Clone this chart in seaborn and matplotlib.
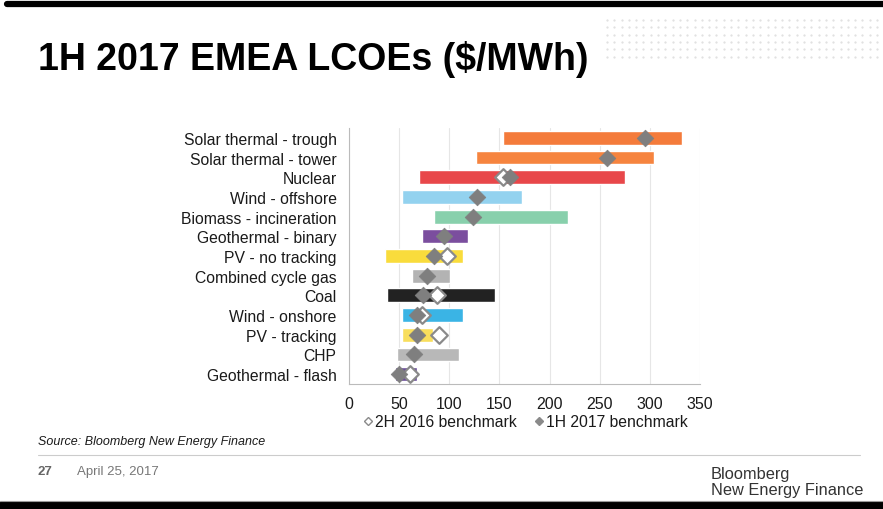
import numpy as np
import matplotlib.pyplot as plt
import seaborn as sns
from matplotlib.lines import Line2D

techs = ['Solar thermal - trough', 'Solar thermal - tower', 'Nuclear', 'Wind - offshore',
         'Biomass - incineration', 'Geothermal - binary', 'PV - no tracking',
         'Combined cycle gas', 'Coal', 'Wind - onshore', 'PV - tracking', 'CHP',
         'Geothermal - flash']
low = [154, 127, 70, 53, 85, 73, 36, 63, 38, 53, 53, 48, 46]
high = [332, 304, 275, 173, 218, 119, 114, 101, 146, 114, 84, 110, 68]
bench_2h2016 = [np.nan, np.nan, 154, np.nan, np.nan, np.nan, 98, np.nan, 88, 73, 90, np.nan, 61]
bench_1h2017 = [295, 257, 161, 128, 124, 95, 85, 78, 74, 68, 68, 65, 50]
colors = ['#F47B3B', '#F6843F', '#E8474A', '#93D2EF', '#88D0AC', '#7B4E9E', '#F9DC3C',
          '#B3B3B3', '#222222', '#3AB4E5', '#F8DE5C', '#B8B8B8', '#6B4C9A']

sns.set_style('white')
plt.rcParams['font.family'] = ['Liberation Sans', 'DejaVu Sans']
plt.rcParams['text.color'] = '#1a1a1a'

fig = plt.figure(figsize=(8.83, 5.10), dpi=100)
ax = fig.add_axes([349 / 883, 1 - 385 / 510, 351 / 883, 256 / 510])

pos = np.arange(len(techs))
ax.barh(pos, np.array(high) - np.array(low), left=low, height=0.7, color=colors, zorder=2)
sns.scatterplot(x=bench_2h2016, y=pos, marker='D', s=72, color='white', edgecolor='#8a8a8a',
                linewidth=1.6, ax=ax, zorder=3, legend=False)
sns.scatterplot(x=bench_1h2017, y=pos, marker='D', s=72, color='#7f7f7f', edgecolor='#7f7f7f',
                linewidth=0.5, ax=ax, zorder=4, legend=False)

ax.set_xlim(0, 350)
ax.set_ylim(len(techs) - 0.5, -0.5)
ax.set_xticks(range(0, 351, 50))
ax.set_yticks(pos)
ax.set_yticklabels(techs, fontsize=11.3)
ax.set_yticks(np.arange(-0.5, len(techs), 1), minor=True)
ax.tick_params(axis='y', which='major', length=0, pad=9, labelcolor='#1a1a1a')
ax.tick_params(axis='y', which='minor', length=4, color='#bbbbbb', direction='out')
ax.tick_params(axis='x', length=4, color='#bbbbbb', labelsize=11.5, pad=5, labelcolor='#1a1a1a')
ax.grid(axis='x', color='#e6e6e6', linewidth=0.8, zorder=0)
for side in ['top', 'right']:
    ax.spines[side].set_visible(False)
for side in ['left', 'bottom']:
    ax.spines[side].set_color('#bbbbbb')

handles = [Line2D([], [], marker='D', ls='', markersize=4.5, markerfacecolor='white',
                  markeredgecolor='#8a8a8a', markeredgewidth=1),
           Line2D([], [], marker='D', ls='', markersize=4.5, markerfacecolor='#8a8a8a',
                  markeredgecolor='#8a8a8a')]
ax.legend(handles, ['2H 2016 benchmark', '1H 2017 benchmark'], ncol=2, frameon=False,
          loc='upper center', bbox_to_anchor=(0.5, -0.075), fontsize=11.3,
          handletextpad=0.05, columnspacing=1.0, handlelength=0.8, borderpad=0.2)

# slide decoration
fig.add_artist(plt.Line2D([0.008, 1], [1 - 5 / 510, 1 - 5 / 510], color='black', lw=4.5))
fig.add_artist(plt.Rectangle((0, 0), 1, 7 / 510, color='black', transform=fig.transFigure))
fig.add_artist(plt.Line2D([0, 1], [8.5 / 510, 8.5 / 510], color='#999999', lw=0.8))
fig.add_artist(plt.Line2D([38 / 883, 860 / 883], [1 - 456 / 510, 1 - 456 / 510],
                          color='#cccccc', lw=0.8))
dx, dy = np.meshgrid(np.arange(607, 883, 7.3), np.arange(21, 60, 7.3))
fig.add_artist(plt.Line2D((dx / 883).ravel(), (1 - dy / 510).ravel(), ls='',
                          marker='.', markersize=1.1, color='#dddddd'))

fig.text(38 / 883, 1 - 59 / 510, '1H 2017 EMEA LCOEs ($/MWh)', fontsize=27,
         fontweight='bold', color='black', va='center', ha='left')
fig.text(38 / 883, 1 - 442 / 510, 'Source: Bloomberg New Energy Finance', fontsize=9,
         style='italic', va='center', ha='left')
fig.text(38 / 883, 1 - 472 / 510, '27', fontsize=9.5, color='#666666', fontweight='bold',
         va='center', ha='left')
fig.text(77 / 883, 1 - 472 / 510, 'April 25, 2017', fontsize=9.5, color='#777777',
         va='center', ha='left')
fig.text(711 / 883, 1 - 475 / 510, 'Bloomberg', fontsize=11.8, color='#333333',
         va='center', ha='left')
fig.text(711 / 883, 1 - 491 / 510, 'New Energy Finance', fontsize=11.8, color='#333333',
         va='center', ha='left')

plt.savefig('out.png', dpi=100)
plt.close()
